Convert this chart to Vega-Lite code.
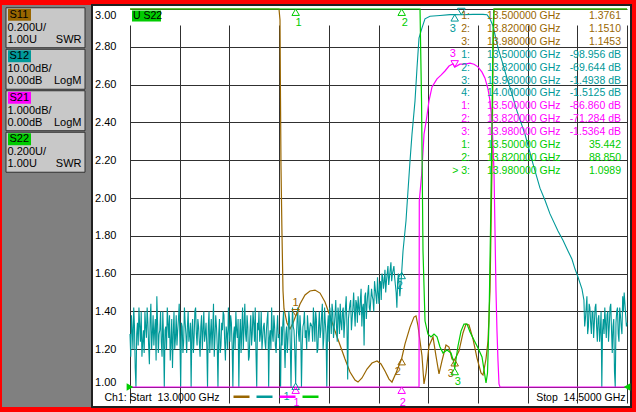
{
  "$schema": "https://vega.github.io/schema/vega-lite/v6.json",
  "background": "#ff0000",
  "padding": {"left": 2, "top": 4, "right": 5, "bottom": 6},
  "spacing": 0,
  "bounds": "flush",
  "config": {
    "font": "Liberation Sans",
    "text": {"font": "Liberation Sans"},
    "axis": {"labelFont": "Liberation Sans"},
    "legend": {"labelFont": "Liberation Sans"}
  },
  "resolve": {"scale": {"color": "independent"}, "legend": {"color": "independent"}},
  "datasets": {
    "panel": [
      {"trace": "S11", "per": "0.200U/", "ref": "1.00U", "fmt": "SWR"},
      {"trace": "S12", "per": "10.00dB/", "ref": "0.00dB", "fmt": "LogM"},
      {"trace": "S21", "per": "1.000dB/", "ref": "0.00dB", "fmt": "LogM"},
      {"trace": "S22", "per": "0.200U/", "ref": "1.00U", "fmt": "SWR"}
    ],
    "s11": [
      {"f": 13.0, "v": 30}, {"f": 13.1, "v": 28}, {"f": 13.2, "v": 24}, {"f": 13.3, "v": 18}, {"f": 13.4, "v": 10}, {"f": 13.445, "v": 5},
      {"f": 13.4497, "v": 3.5}, {"f": 13.4527, "v": 2.942}, {"f": 13.4542, "v": 2.529}, {"f": 13.4557, "v": 2.169}, {"f": 13.4587, "v": 1.81},
      {"f": 13.4618, "v": 1.508}, {"f": 13.4648, "v": 1.413}, {"f": 13.4738, "v": 1.339}, {"f": 13.4829, "v": 1.307}, {"f": 13.492, "v": 1.339},
      {"f": 13.5, "v": 1.3761}, {"f": 13.5131, "v": 1.439}, {"f": 13.5282, "v": 1.487}, {"f": 13.5433, "v": 1.508}, {"f": 13.5584, "v": 1.513},
      {"f": 13.5735, "v": 1.497}, {"f": 13.5885, "v": 1.45}, {"f": 13.6036, "v": 1.376}, {"f": 13.6187, "v": 1.296}, {"f": 13.6338, "v": 1.222},
      {"f": 13.6489, "v": 1.148}, {"f": 13.664, "v": 1.079}, {"f": 13.6791, "v": 1.037}, {"f": 13.6881, "v": 1.026}, {"f": 13.7002, "v": 1.048},
      {"f": 13.7153, "v": 1.095}, {"f": 13.7304, "v": 1.127}, {"f": 13.7455, "v": 1.138}, {"f": 13.7575, "v": 1.122}, {"f": 13.7696, "v": 1.085},
      {"f": 13.7817, "v": 1.042}, {"f": 13.7907, "v": 1.026}, {"f": 13.8028, "v": 1.074}, {"f": 13.82, "v": 1.151}, {"f": 13.83, "v": 1.228},
      {"f": 13.8451, "v": 1.317}, {"f": 13.8571, "v": 1.37}, {"f": 13.8632, "v": 1.376}, {"f": 13.8692, "v": 1.323}, {"f": 13.8753, "v": 1.243},
      {"f": 13.8813, "v": 1.164}, {"f": 13.8873, "v": 1.016}, {"f": 13.8934, "v": 1.074}, {"f": 13.9024, "v": 1.217}, {"f": 13.9145, "v": 1.265},
      {"f": 13.9235, "v": 1.164}, {"f": 13.9326, "v": 1.069}, {"f": 13.9416, "v": 1.138}, {"f": 13.9537, "v": 1.222}, {"f": 13.9627, "v": 1.211},
      {"f": 13.9718, "v": 1.148}, {"f": 13.98, "v": 1.1453}, {"f": 13.9929, "v": 1.19}, {"f": 14.005, "v": 1.286}, {"f": 14.0141, "v": 1.333},
      {"f": 14.0231, "v": 1.328}, {"f": 14.0352, "v": 1.254}, {"f": 14.0473, "v": 1.153}, {"f": 14.0594, "v": 1.074}, {"f": 14.0654, "v": 1.063},
      {"f": 14.0744, "v": 1.148}, {"f": 14.0805, "v": 1.243}, {"f": 14.0865, "v": 1.508}, {"f": 14.0895, "v": 1.825}, {"f": 14.0926, "v": 2.169},
      {"f": 14.0956, "v": 2.725}, {"f": 14.0986, "v": 3.6}, {"f": 14.15, "v": 8}, {"f": 14.25, "v": 14}, {"f": 14.35, "v": 20}, {"f": 14.5, "v": 26}
    ],
    "s12": [
      {"f": 13.0, "v": -86}, {"f": 13.0045, "v": -81}, {"f": 13.009, "v": -90}, {"f": 13.0135, "v": -84}, {"f": 13.018, "v": -101},
      {"f": 13.0225, "v": -83}, {"f": 13.027, "v": -79}, {"f": 13.0315, "v": -88}, {"f": 13.036, "v": -92}, {"f": 13.0405, "v": -85},
      {"f": 13.045, "v": -80}, {"f": 13.0495, "v": -87}, {"f": 13.054, "v": -83}, {"f": 13.0585, "v": -94}, {"f": 13.063, "v": -78},
      {"f": 13.0675, "v": -86}, {"f": 13.072, "v": -89}, {"f": 13.0765, "v": -82}, {"f": 13.081, "v": -76}, {"f": 13.0855, "v": -91},
      {"f": 13.09, "v": -85}, {"f": 13.0945, "v": -88}, {"f": 13.099, "v": -80}, {"f": 13.1035, "v": -103}, {"f": 13.108, "v": -84},
      {"f": 13.1125, "v": -79}, {"f": 13.117, "v": -87}, {"f": 13.1215, "v": -93}, {"f": 13.126, "v": -82}, {"f": 13.1305, "v": -86},
      {"f": 13.135, "v": -90}, {"f": 13.1395, "v": -81}, {"f": 13.144, "v": -85}, {"f": 13.1485, "v": -78}, {"f": 13.153, "v": -100},
      {"f": 13.1575, "v": -84}, {"f": 13.162, "v": -88}, {"f": 13.1665, "v": -83}, {"f": 13.171, "v": -91}, {"f": 13.1755, "v": -80},
      {"f": 13.18, "v": -86}, {"f": 13.1845, "v": -102}, {"f": 13.189, "v": -82}, {"f": 13.1935, "v": -87}, {"f": 13.198, "v": -79},
      {"f": 13.2025, "v": -89}, {"f": 13.207, "v": -84}, {"f": 13.2115, "v": -92}, {"f": 13.216, "v": -81}, {"f": 13.2205, "v": -85},
      {"f": 13.225, "v": -88}, {"f": 13.2295, "v": -83}, {"f": 13.234, "v": -101}, {"f": 13.2385, "v": -80}, {"f": 13.243, "v": -86},
      {"f": 13.2475, "v": -90}, {"f": 13.252, "v": -78}, {"f": 13.2565, "v": -87}, {"f": 13.261, "v": -84}, {"f": 13.2655, "v": -104},
      {"f": 13.27, "v": -82}, {"f": 13.2745, "v": -89}, {"f": 13.279, "v": -85}, {"f": 13.2835, "v": -81}, {"f": 13.288, "v": -93},
      {"f": 13.2925, "v": -86}, {"f": 13.297, "v": -79}, {"f": 13.3015, "v": -88}, {"f": 13.306, "v": -83}, {"f": 13.3105, "v": -100},
      {"f": 13.315, "v": -84}, {"f": 13.3195, "v": -80}, {"f": 13.324, "v": -87}, {"f": 13.3285, "v": -101}, {"f": 13.333, "v": -82},
      {"f": 13.3375, "v": -85}, {"f": 13.342, "v": -90}, {"f": 13.3465, "v": -78}, {"f": 13.351, "v": -88}, {"f": 13.3555, "v": -84},
      {"f": 13.36, "v": -92}, {"f": 13.3645, "v": -81}, {"f": 13.369, "v": -86}, {"f": 13.3735, "v": -83}, {"f": 13.378, "v": -79},
      {"f": 13.3825, "v": -102}, {"f": 13.387, "v": -85}, {"f": 13.3915, "v": -88}, {"f": 13.396, "v": -80}, {"f": 13.4005, "v": -87},
      {"f": 13.405, "v": -83}, {"f": 13.4095, "v": -90}, {"f": 13.414, "v": -82}, {"f": 13.4185, "v": -105}, {"f": 13.423, "v": -85},
      {"f": 13.4275, "v": -79}, {"f": 13.432, "v": -88}, {"f": 13.4365, "v": -84}, {"f": 13.441, "v": -91}, {"f": 13.4455, "v": -81},
      {"f": 13.45, "v": -86}, {"f": 13.4545, "v": -101}, {"f": 13.459, "v": -89}, {"f": 13.4635, "v": -80}, {"f": 13.468, "v": -95},
      {"f": 13.4725, "v": -84}, {"f": 13.477, "v": -87}, {"f": 13.4815, "v": -82}, {"f": 13.486, "v": -100}, {"f": 13.4905, "v": -79},
      {"f": 13.495, "v": -85}, {"f": 13.5, "v": -98.956}, {"f": 13.504, "v": -83}, {"f": 13.5085, "v": -86}, {"f": 13.513, "v": -81},
      {"f": 13.5175, "v": -102}, {"f": 13.522, "v": -84}, {"f": 13.5265, "v": -80}, {"f": 13.531, "v": -85}, {"f": 13.5355, "v": -81},
      {"f": 13.54, "v": -88}, {"f": 13.5445, "v": -83},
      {"f": 13.549, "v": -84}, {"f": 13.5535, "v": -79}, {"f": 13.558, "v": -88}, {"f": 13.5625, "v": -82}, {"f": 13.567, "v": -90},
      {"f": 13.5715, "v": -80}, {"f": 13.576, "v": -85}, {"f": 13.5805, "v": -78}, {"f": 13.585, "v": -87}, {"f": 13.5895, "v": -83},
      {"f": 13.594, "v": -101}, {"f": 13.5985, "v": -81}, {"f": 13.603, "v": -79}, {"f": 13.6075, "v": -86}, {"f": 13.612, "v": -80},
      {"f": 13.6165, "v": -84}, {"f": 13.621, "v": -77}, {"f": 13.6255, "v": -88}, {"f": 13.63, "v": -81}, {"f": 13.6345, "v": -78},
      {"f": 13.639, "v": -85}, {"f": 13.6435, "v": -79}, {"f": 13.648, "v": -83}, {"f": 13.6525, "v": -76}, {"f": 13.657, "v": -98},
      {"f": 13.6615, "v": -80}, {"f": 13.666, "v": -77}, {"f": 13.6705, "v": -82}, {"f": 13.675, "v": -75}, {"f": 13.6795, "v": -84},
      {"f": 13.684, "v": -78}, {"f": 13.6885, "v": -76}, {"f": 13.693, "v": -81}, {"f": 13.6975, "v": -74}, {"f": 13.702, "v": -79},
      {"f": 13.7065, "v": -89}, {"f": 13.711, "v": -75}, {"f": 13.7155, "v": -78}, {"f": 13.72, "v": -73}, {"f": 13.7245, "v": -80},
      {"f": 13.729, "v": -74}, {"f": 13.7335, "v": -77}, {"f": 13.738, "v": -72}, {"f": 13.7425, "v": -76}, {"f": 13.747, "v": -71},
      {"f": 13.7515, "v": -78}, {"f": 13.756, "v": -72}, {"f": 13.7605, "v": -70}, {"f": 13.765, "v": -74}, {"f": 13.7695, "v": -69},
      {"f": 13.774, "v": -72}, {"f": 13.7785, "v": -68}, {"f": 13.783, "v": -71}, {"f": 13.7875, "v": -67}, {"f": 13.792, "v": -70},
      {"f": 13.7965, "v": -68}, {"f": 13.801, "v": -73}, {"f": 13.8055, "v": -79}, {"f": 13.81, "v": -70}, {"f": 13.8145, "v": -76},
      {"f": 13.82, "v": -69.644}, {"f": 13.824, "v": -64}, {"f": 13.833, "v": -56}, {"f": 13.836, "v": -52}, {"f": 13.8451, "v": -40.2},
      {"f": 13.8511, "v": -33.1}, {"f": 13.8602, "v": -24.3}, {"f": 13.8662, "v": -15.6}, {"f": 13.8722, "v": -7.7}, {"f": 13.8813, "v": -5.0},
      {"f": 13.8903, "v": -2.6}, {"f": 13.9054, "v": -1.9}, {"f": 13.9356, "v": -1.7}, {"f": 13.9658, "v": -1.5}, {"f": 13.98, "v": -1.4938},
      {"f": 14.0, "v": -1.5125}, {"f": 14.0352, "v": -1.42}, {"f": 14.0654, "v": -1.42}, {"f": 14.0775, "v": -1.5}, {"f": 14.0865, "v": -2.6},
      {"f": 14.0956, "v": -4.5}, {"f": 14.1107, "v": -10.3}, {"f": 14.1227, "v": -13.8}, {"f": 14.1378, "v": -18.3}, {"f": 14.1529, "v": -22.5},
      {"f": 14.168, "v": -27.0}, {"f": 14.1921, "v": -33.1}, {"f": 14.2163, "v": -41}, {"f": 14.2374, "v": -47.4}, {"f": 14.2525, "v": -50.6},
      {"f": 14.2676, "v": -54.2}, {"f": 14.2917, "v": -58.7}, {"f": 14.3068, "v": -61.2}, {"f": 14.3219, "v": -64.0}, {"f": 14.334, "v": -66.2},
      {"f": 14.3431, "v": -68.8}, {"f": 14.3521, "v": -70.9}, {"f": 14.3642, "v": -74.1},
      {"f": 14.37, "v": -77}, {"f": 14.3745, "v": -82}, {"f": 14.379, "v": -76}, {"f": 14.3835, "v": -84}, {"f": 14.388, "v": -79},
      {"f": 14.3925, "v": -86}, {"f": 14.397, "v": -80}, {"f": 14.4015, "v": -83}, {"f": 14.406, "v": -78}, {"f": 14.4105, "v": -88},
      {"f": 14.415, "v": -81}, {"f": 14.4195, "v": -85}, {"f": 14.424, "v": -101}, {"f": 14.4285, "v": -82}, {"f": 14.433, "v": -79},
      {"f": 14.4375, "v": -87}, {"f": 14.442, "v": -80}, {"f": 14.4465, "v": -84}, {"f": 14.451, "v": -78}, {"f": 14.4555, "v": -91},
      {"f": 14.46, "v": -82}, {"f": 14.4645, "v": -104}, {"f": 14.469, "v": -80}, {"f": 14.4735, "v": -86}, {"f": 14.478, "v": -79},
      {"f": 14.4825, "v": -84}, {"f": 14.487, "v": -76}, {"f": 14.4915, "v": -75}, {"f": 14.496, "v": -81}, {"f": 14.5, "v": -83},
      {"f": 13.00225, "v": -92}, {"f": 13.00675, "v": -85}, {"f": 13.01125, "v": -79}, {"f": 13.01575, "v": -95}, {"f": 13.02025, "v": -86},
      {"f": 13.02475, "v": -89}, {"f": 13.02925, "v": -84}, {"f": 13.03375, "v": -80}, {"f": 13.03825, "v": -88}, {"f": 13.04275, "v": -91},
      {"f": 13.04725, "v": -84}, {"f": 13.05175, "v": -79}, {"f": 13.05625, "v": -89}, {"f": 13.06075, "v": -82}, {"f": 13.06525, "v": -90},
      {"f": 13.06975, "v": -81}, {"f": 13.07425, "v": -85}, {"f": 13.07875, "v": -93}, {"f": 13.08325, "v": -83}, {"f": 13.08775, "v": -86},
      {"f": 13.09225, "v": -80}, {"f": 13.09675, "v": -92}, {"f": 13.10125, "v": -87}, {"f": 13.10575, "v": -85}, {"f": 13.11025, "v": -90},
      {"f": 13.11475, "v": -83}, {"f": 13.11925, "v": -81}, {"f": 13.12375, "v": -88}, {"f": 13.12825, "v": -95}, {"f": 13.13275, "v": -80},
      {"f": 13.13725, "v": -87}, {"f": 13.14175, "v": -89}, {"f": 13.14625, "v": -82}, {"f": 13.15075, "v": -88}, {"f": 13.15525, "v": -83},
      {"f": 13.15975, "v": -91}, {"f": 13.16425, "v": -79}, {"f": 13.16875, "v": -86}, {"f": 13.17325, "v": -84}, {"f": 13.17775, "v": -88},
      {"f": 13.18225, "v": -83}, {"f": 13.18675, "v": -85}, {"f": 13.19125, "v": -91}, {"f": 13.19575, "v": -80}, {"f": 13.20025, "v": -86},
      {"f": 13.20475, "v": -82}, {"f": 13.20925, "v": -88}, {"f": 13.21375, "v": -84}, {"f": 13.21825, "v": -90}, {"f": 13.22275, "v": -80},
      {"f": 13.22725, "v": -86}, {"f": 13.23175, "v": -89}, {"f": 13.23625, "v": -84}, {"f": 13.24075, "v": -91}, {"f": 13.24525, "v": -82},
      {"f": 13.24975, "v": -85}, {"f": 13.25425, "v": -92}, {"f": 13.25875, "v": -81}, {"f": 13.26325, "v": -89}, {"f": 13.26775, "v": -86},
      {"f": 13.27225, "v": -91}, {"f": 13.27675, "v": -83}, {"f": 13.28125, "v": -80}, {"f": 13.28575, "v": -88}, {"f": 13.29025, "v": -84},
      {"f": 13.29475, "v": -90}, {"f": 13.29925, "v": -85}, {"f": 13.30375, "v": -81}, {"f": 13.30825, "v": -89}, {"f": 13.31275, "v": -86},
      {"f": 13.31725, "v": -90}, {"f": 13.32175, "v": -85}, {"f": 13.32625, "v": -82}, {"f": 13.33075, "v": -87}, {"f": 13.33525, "v": -91},
      {"f": 13.33975, "v": -79}, {"f": 13.34425, "v": -84}, {"f": 13.34875, "v": -86}, {"f": 13.35325, "v": -81}, {"f": 13.35775, "v": -93},
      {"f": 13.36225, "v": -85}, {"f": 13.36675, "v": -89}, {"f": 13.37125, "v": -80}, {"f": 13.37575, "v": -88}, {"f": 13.38025, "v": -91},
      {"f": 13.38475, "v": -83}, {"f": 13.38925, "v": -80}, {"f": 13.39375, "v": -86}, {"f": 13.39825, "v": -90}, {"f": 13.40275, "v": -84},
      {"f": 13.40725, "v": -88}, {"f": 13.41175, "v": -85}, {"f": 13.41625, "v": -80}, {"f": 13.42075, "v": -87}, {"f": 13.42525, "v": -90},
      {"f": 13.42975, "v": -86}, {"f": 13.43425, "v": -81}, {"f": 13.43875, "v": -89}, {"f": 13.44325, "v": -85}, {"f": 13.44775, "v": -87},
      {"f": 13.45225, "v": -90}, {"f": 13.45675, "v": -84}, {"f": 13.46125, "v": -83}, {"f": 13.46575, "v": -88}, {"f": 13.47025, "v": -86},
      {"f": 13.47475, "v": -91}, {"f": 13.47925, "v": -80}, {"f": 13.48375, "v": -89}, {"f": 13.48825, "v": -86}, {"f": 13.49275, "v": -84},
      {"f": 13.49725, "v": -90}, {"f": 13.502, "v": -87}, {"f": 13.50625, "v": -79}, {"f": 13.51075, "v": -88}, {"f": 13.51525, "v": -85},
      {"f": 13.51975, "v": -89}, {"f": 13.52425, "v": -83}, {"f": 13.52875, "v": -87}, {"f": 13.53325, "v": -90}, {"f": 13.53775, "v": -84},
      {"f": 13.54225, "v": -85},
      {"f": 13.55125, "v": -88}, {"f": 13.55575, "v": -83}, {"f": 13.56025, "v": -80}, {"f": 13.56475, "v": -91}, {"f": 13.56925, "v": -84},
      {"f": 13.57375, "v": -87}, {"f": 13.57825, "v": -81}, {"f": 13.58275, "v": -90}, {"f": 13.58725, "v": -79}, {"f": 13.59175, "v": -86},
      {"f": 13.59625, "v": -84}, {"f": 13.60075, "v": -88}, {"f": 13.60525, "v": -82}, {"f": 13.60975, "v": -78}, {"f": 13.61425, "v": -87},
      {"f": 13.61875, "v": -81}, {"f": 13.62325, "v": -84}, {"f": 13.62775, "v": -79}, {"f": 13.63225, "v": -86}, {"f": 13.63675, "v": -83},
      {"f": 13.64125, "v": -80}, {"f": 13.64575, "v": -87}, {"f": 13.65025, "v": -79}, {"f": 13.65475, "v": -84}, {"f": 13.65925, "v": -82},
      {"f": 13.66375, "v": -78}, {"f": 13.66825, "v": -85}, {"f": 13.67275, "v": -79}, {"f": 13.67725, "v": -80}, {"f": 13.68175, "v": -77},
      {"f": 13.68625, "v": -83}, {"f": 13.69075, "v": -79}, {"f": 13.69525, "v": -77}, {"f": 13.69975, "v": -84}, {"f": 13.70425, "v": -78},
      {"f": 13.70875, "v": -76}, {"f": 13.71325, "v": -82}, {"f": 13.71775, "v": -75}, {"f": 13.72225, "v": -79}, {"f": 13.72675, "v": -77},
      {"f": 13.73125, "v": -76}, {"f": 13.73575, "v": -80}, {"f": 13.74025, "v": -74}, {"f": 13.74475, "v": -78}, {"f": 13.74925, "v": -75},
      {"f": 13.75375, "v": -73}, {"f": 13.75825, "v": -77}, {"f": 13.76275, "v": -71}, {"f": 13.76725, "v": -72}, {"f": 13.77175, "v": -75},
      {"f": 13.77625, "v": -70}, {"f": 13.78075, "v": -73}, {"f": 13.78525, "v": -69}, {"f": 13.78975, "v": -72}, {"f": 13.79425, "v": -69},
      {"f": 13.79875, "v": -71}, {"f": 13.80325, "v": -75}, {"f": 13.80775, "v": -72}, {"f": 13.81225, "v": -73},
      {"f": 14.37225, "v": -84}, {"f": 14.37675, "v": -79}, {"f": 14.38125, "v": -86}, {"f": 14.38575, "v": -78}, {"f": 14.39025, "v": -83},
      {"f": 14.39475, "v": -80}, {"f": 14.39925, "v": -87}, {"f": 14.40375, "v": -79}, {"f": 14.40825, "v": -84}, {"f": 14.41275, "v": -82},
      {"f": 14.41725, "v": -88}, {"f": 14.42175, "v": -80}, {"f": 14.42625, "v": -85}, {"f": 14.43075, "v": -86}, {"f": 14.43525, "v": -83},
      {"f": 14.43975, "v": -81}, {"f": 14.44425, "v": -88}, {"f": 14.44875, "v": -79}, {"f": 14.45325, "v": -85}, {"f": 14.45775, "v": -84},
      {"f": 14.46225, "v": -96}, {"f": 14.46675, "v": -83}, {"f": 14.47125, "v": -79}, {"f": 14.47575, "v": -88}, {"f": 14.48025, "v": -81},
      {"f": 14.48475, "v": -86}, {"f": 14.48925, "v": -80}, {"f": 14.49375, "v": -78}, {"f": 14.49825, "v": -84}
    ],
    "s21": [
      {"f": 13.0, "v": -95}, {"f": 13.2, "v": -92}, {"f": 13.4, "v": -90}, {"f": 13.5, "v": -86.86}, {"f": 13.7, "v": -78},
      {"f": 13.82, "v": -71.284}, {"f": 13.86, "v": -40}, {"f": 13.868, "v": -15}, {"f": 13.8723, "v": -11}, {"f": 13.8731, "v": -5.08},
      {"f": 13.8803, "v": -4.37}, {"f": 13.8874, "v": -3.31}, {"f": 13.8949, "v": -2.91}, {"f": 13.9024, "v": -2.43}, {"f": 13.9115, "v": -2.06},
      {"f": 13.9266, "v": -1.85}, {"f": 13.9387, "v": -1.75}, {"f": 13.9507, "v": -1.64}, {"f": 13.9628, "v": -1.51}, {"f": 13.9749, "v": -1.45},
      {"f": 13.98, "v": -1.5364}, {"f": 13.996, "v": -1.46}, {"f": 14.0111, "v": -1.46}, {"f": 14.0262, "v": -1.43}, {"f": 14.0382, "v": -1.46},
      {"f": 14.0503, "v": -1.53}, {"f": 14.0624, "v": -1.67}, {"f": 14.0714, "v": -1.83}, {"f": 14.0805, "v": -2.12}, {"f": 14.0865, "v": -2.43},
      {"f": 14.0926, "v": -2.96}, {"f": 14.0986, "v": -4.29}, {"f": 14.1016, "v": -5.87}, {"f": 14.1046, "v": -7.46}, {"f": 14.1076, "v": -8.52},
      {"f": 14.1107, "v": -9.31}, {"f": 14.1137, "v": -9.92}, {"f": 14.1167, "v": -12}, {"f": 14.2, "v": -40}, {"f": 14.3, "v": -70},
      {"f": 14.4, "v": -85}, {"f": 14.5, "v": -92}
    ],
    "s22": [
      {"f": 13.0, "v": 40}, {"f": 13.2, "v": 45}, {"f": 13.5, "v": 35.442}, {"f": 13.7, "v": 60}, {"f": 13.82, "v": 88.85},
      {"f": 13.87, "v": 25}, {"f": 13.8753, "v": 6}, {"f": 13.8799, "v": 2.513}, {"f": 13.8843, "v": 1.72}, {"f": 13.8904, "v": 1.349},
      {"f": 13.8994, "v": 1.28}, {"f": 13.9085, "v": 1.265}, {"f": 13.9175, "v": 1.28}, {"f": 13.9266, "v": 1.265}, {"f": 13.9356, "v": 1.212},
      {"f": 13.9447, "v": 1.18}, {"f": 13.9567, "v": 1.196}, {"f": 13.9688, "v": 1.18}, {"f": 13.9779, "v": 1.127}, {"f": 13.98, "v": 1.0989},
      {"f": 13.9899, "v": 1.217}, {"f": 13.999, "v": 1.296}, {"f": 14.008, "v": 1.333}, {"f": 14.0171, "v": 1.333}, {"f": 14.0262, "v": 1.291},
      {"f": 14.0382, "v": 1.249}, {"f": 14.0503, "v": 1.206}, {"f": 14.0624, "v": 1.159}, {"f": 14.0699, "v": 1.074}, {"f": 14.0745, "v": 1.021},
      {"f": 14.079, "v": 1.074}, {"f": 14.0835, "v": 1.349}, {"f": 14.088, "v": 1.825}, {"f": 14.0926, "v": 2.407}, {"f": 14.0956, "v": 2.884},
      {"f": 14.0986, "v": 5}, {"f": 14.2, "v": 30}, {"f": 14.5, "v": 60}
    ],
    "markers": [
      {"trace": "S11", "m": 1, "f": 13.5, "v": 1.3761},
      {"trace": "S11", "m": 2, "f": 13.82, "v": 1.151},
      {"trace": "S11", "m": 3, "f": 13.98, "v": 1.1453},
      {"trace": "S12", "m": 1, "f": 13.5, "v": -98.956},
      {"trace": "S12", "m": 2, "f": 13.82, "v": -69.644},
      {"trace": "S12", "m": 3, "f": 13.98, "v": -1.4938},
      {"trace": "S12", "m": 4, "f": 14.0, "v": -1.5125},
      {"trace": "S21", "m": 1, "f": 13.5, "v": -86.86},
      {"trace": "S21", "m": 2, "f": 13.82, "v": -71.284},
      {"trace": "S21", "m": 3, "f": 13.98, "v": -1.5364},
      {"trace": "S22", "m": 1, "f": 13.5, "v": 35.442},
      {"trace": "S22", "m": 2, "f": 13.82, "v": 88.85},
      {"trace": "S22", "m": 3, "f": 13.98, "v": 1.0989}
    ],
    "readout": [
      {"trace": "S11", "row": 0, "m": "1:", "freq": "13.500000 GHz", "val": "1.3761"},
      {"trace": "S11", "row": 1, "m": "2:", "freq": "13.820000 GHz", "val": "1.1510"},
      {"trace": "S11", "row": 2, "m": "3:", "freq": "13.980000 GHz", "val": "1.1453"},
      {"trace": "S12", "row": 3, "m": "1:", "freq": "13.500000 GHz", "val": "-98.956 dB"},
      {"trace": "S12", "row": 4, "m": "2:", "freq": "13.820000 GHz", "val": "-69.644 dB"},
      {"trace": "S12", "row": 5, "m": "3:", "freq": "13.980000 GHz", "val": "-1.4938 dB"},
      {"trace": "S12", "row": 6, "m": "4:", "freq": "14.000000 GHz", "val": "-1.5125 dB"},
      {"trace": "S21", "row": 7, "m": "1:", "freq": "13.500000 GHz", "val": "-86.860 dB"},
      {"trace": "S21", "row": 8, "m": "2:", "freq": "13.820000 GHz", "val": "-71.284 dB"},
      {"trace": "S21", "row": 9, "m": "3:", "freq": "13.980000 GHz", "val": "-1.5364 dB"},
      {"trace": "S22", "row": 10, "m": "1:", "freq": "13.500000 GHz", "val": "35.442"},
      {"trace": "S22", "row": 11, "m": "2:", "freq": "13.820000 GHz", "val": "88.850"},
      {"trace": "S22", "row": 12, "m": "> 3:", "freq": "13.980000 GHz", "val": "1.0989"}
    ],
    "tag": [{"label": "U S22", "trace": "S22", "row": 0}],
    "refl": [{"f": 13.0, "v": 1.0}],
    "refr": [{"f": 14.5, "v": 1.0}]
  },
  "hconcat": [
    {
      "width": 90,
      "height": 402,
      "view": {"fill": "#808080", "stroke": null},
      "data": {"name": "panel"},
      "encoding": {
        "y": {"field": "trace", "type": "nominal", "axis": null, "sort": null,
              "scale": {"domain": ["S11", "S12", "S21", "S22"], "range": [2, 168], "paddingInner": 0.05, "paddingOuter": 0}}
      },
      "layer": [
        {"mark": {"type": "point", "shape": "M-1,-0.506H1V0.506H-1Z", "size": 6241, "filled": true, "fill": "#c8c8c8", "stroke": "#303030", "strokeWidth": 1, "opacity": 1, "xOffset": -1.5}},
        {"mark": {"type": "point", "shape": "M-1,-0.52H1V0.52H-1Z", "size": 529, "filled": true, "opacity": 1, "strokeWidth": 0, "xOffset": -27.5, "yOffset": -13},
         "encoding": {"color": {"field": "trace", "type": "nominal", "legend": null,
                                "scale": {"domain": ["S11", "S12", "S21", "S22"], "range": ["#996600", "#009999", "#ff00ff", "#00cc00"]}}}},
        {"mark": {"type": "text", "align": "left", "baseline": "middle", "dx": -37.5, "dy": -13, "fontSize": 11, "color": "#000000"},
         "encoding": {"text": {"field": "trace", "type": "nominal"}}},
        {"mark": {"type": "text", "align": "left", "baseline": "middle", "dx": -39.5, "dy": 0, "fontSize": 11, "color": "#000000"},
         "encoding": {"text": {"field": "per", "type": "nominal"}}},
        {"mark": {"type": "text", "align": "left", "baseline": "middle", "dx": -39.5, "dy": 12, "fontSize": 11, "color": "#000000"},
         "encoding": {"text": {"field": "ref", "type": "nominal"}}},
        {"mark": {"type": "text", "align": "right", "baseline": "middle", "dx": 34.5, "dy": 12, "fontSize": 11, "color": "#000000"},
         "encoding": {"text": {"field": "fmt", "type": "nominal"}}}
      ]
    },
    {
      "width": 539,
      "height": 402,
      "view": {"fill": "#ffffff", "stroke": "#202020", "strokeWidth": 2},
      "resolve": {"scale": {"y": "independent"}, "axis": {"y": "independent"}},
      "layer": [
        {
          "data": {"name": "s11"},
          "mark": {"type": "line", "strokeWidth": 1.2},
          "encoding": {
            "x": {"field": "f", "type": "quantitative",
                  "scale": {"domain": [13, 14.5], "range": [38, 535], "nice": false, "zero": false},
                  "axis": {"values": [13, 13.15, 13.3, 13.45, 13.6, 13.75, 13.9, 14.05, 14.2, 14.35, 14.5],
                           "orient": "bottom", "offset": -20, "grid": true, "gridColor": "#303030", "gridOpacity": 1, "gridWidth": 1,
                           "ticks": false, "domain": false, "title": null, "labelPadding": 5, "labelBaseline": "top",
                           "labelExpr": "datum.value == 13 ? 'Ch1: Start\u00a0 13.0000 GHz' : (datum.value == 14.5 ? 'Stop\u00a0 14.5000 GHz' : '')",
                           "labelFlush": true, "labelFlushOffset": 12, "labelOffset": -14, "labelOverlap": false,
                           "labelFontSize": 10.5, "labelColor": "#000000"}},
            "y": {"field": "v", "type": "quantitative", "axis": null,
                  "scale": {"domain": [1, 3], "range": [382, 4], "clamp": true, "nice": false, "zero": false}},
            "color": {"datum": "S11", "type": "nominal",
                      "scale": {"domain": ["S11", "S12", "S21", "S22"], "range": ["#996600", "#009999", "#ff00ff", "#00cc00"]},
                      "legend": {"orient": "none", "legendX": 140, "legendY": 382, "direction": "horizontal", "title": null,
                                 "symbolType": "stroke", "symbolSize": 256, "symbolStrokeWidth": 2.5, "labelExpr": "''",
                                 "labelOffset": 0, "labelFontSize": 1, "columnPadding": -8, "padding": 0, "symbolOffset": 0, "rowPadding": 0}}
          }
        },
        {
          "data": {"name": "s12"},
          "mark": {"type": "line", "strokeWidth": 1.1},
          "encoding": {
            "x": {"field": "f", "type": "quantitative", "scale": {"domain": [13, 14.5], "range": [38, 535], "nice": false, "zero": false}},
            "y": {"field": "v", "type": "quantitative", "axis": null,
                  "scale": {"domain": [-100, 0], "range": [382, 4], "clamp": true, "nice": false, "zero": false}},
            "color": {"datum": "S12", "type": "nominal",
                      "scale": {"domain": ["S11", "S12", "S21", "S22"], "range": ["#996600", "#009999", "#ff00ff", "#00cc00"]}}
          }
        },
        {
          "data": {"name": "s21"},
          "mark": {"type": "line", "strokeWidth": 1.2},
          "encoding": {
            "x": {"field": "f", "type": "quantitative", "scale": {"domain": [13, 14.5], "range": [38, 535], "nice": false, "zero": false}},
            "y": {"field": "v", "type": "quantitative", "axis": null,
                  "scale": {"domain": [-10, 0], "range": [382, 4], "clamp": true, "nice": false, "zero": false}},
            "color": {"datum": "S21", "type": "nominal",
                      "scale": {"domain": ["S11", "S12", "S21", "S22"], "range": ["#996600", "#009999", "#ff00ff", "#00cc00"]}}
          }
        },
        {
          "data": {"name": "s22"},
          "mark": {"type": "line", "strokeWidth": 1.2},
          "encoding": {
            "x": {"field": "f", "type": "quantitative", "scale": {"domain": [13, 14.5], "range": [38, 535], "nice": false, "zero": false}},
            "y": {"field": "v", "type": "quantitative",
                  "scale": {"domain": [1, 3], "range": [382, 4], "clamp": true, "nice": false, "zero": false},
                  "axis": {"orient": "left", "offset": -38, "values": [1, 1.2, 1.4, 1.6, 1.8, 2, 2.2, 2.4, 2.6, 2.8, 3],
                           "format": ".2f", "labelFlush": true, "labelFlushOffset": 0, "grid": true, "gridColor": "#303030",
                           "gridOpacity": 1, "gridWidth": 1, "ticks": false, "domain": false, "title": null, "labelPadding": 14,
                           "labelFontSize": 11, "labelColor": "#000000", "labelOverlap": false}},
            "color": {"datum": "S22", "type": "nominal",
                      "scale": {"domain": ["S11", "S12", "S21", "S22"], "range": ["#996600", "#009999", "#ff00ff", "#00cc00"]}}
          }
        },
        {
          "data": {"name": "markers"},
          "transform": [{"filter": "datum.trace == 'S11' && datum.m == 1"}],
          "encoding": {
            "x": {"field": "f", "type": "quantitative", "scale": {"domain": [13, 14.5], "range": [38, 535], "nice": false, "zero": false}},
            "y": {"field": "v", "type": "quantitative", "axis": null,
                  "scale": {"domain": [1, 3], "range": [382, 4], "clamp": true, "nice": false, "zero": false}}
          },
          "layer": [
            {"mark": {"type": "point", "shape": "triangle-down", "size": 56, "filled": false, "color": "#996600", "strokeWidth": 1, "opacity": 1, "yOffset": -3.2}},
            {"mark": {"type": "text", "baseline": "bottom", "dy": -8, "fontSize": 11, "color": "#996600"}, "encoding": {"text": {"field": "m", "type": "nominal"}}}
          ]
        },
        {
          "data": {"name": "markers"},
          "transform": [{"filter": "datum.trace == 'S11' && datum.m != 1"}],
          "encoding": {
            "x": {"field": "f", "type": "quantitative", "scale": {"domain": [13, 14.5], "range": [38, 535], "nice": false, "zero": false}},
            "y": {"field": "v", "type": "quantitative", "axis": null,
                  "scale": {"domain": [1, 3], "range": [382, 4], "clamp": true, "nice": false, "zero": false}}
          },
          "layer": [
            {"mark": {"type": "point", "shape": "triangle-up", "size": 56, "filled": false, "color": "#996600", "strokeWidth": 1, "opacity": 1, "yOffset": 3.2}},
            {"mark": {"type": "text", "baseline": "top", "dy": 8, "dx": -4, "fontSize": 11, "color": "#996600"}, "encoding": {"text": {"field": "m", "type": "nominal"}}}
          ]
        },
        {
          "data": {"name": "markers"},
          "transform": [{"filter": "datum.trace == 'S12' && datum.m != 4"}],
          "encoding": {
            "x": {"field": "f", "type": "quantitative", "scale": {"domain": [13, 14.5], "range": [38, 535], "nice": false, "zero": false}},
            "y": {"field": "v", "type": "quantitative", "axis": null,
                  "scale": {"domain": [-100, 0], "range": [382, 4], "clamp": true, "nice": false, "zero": false}}
          },
          "layer": [
            {"mark": {"type": "point", "shape": "triangle-up", "size": 56, "filled": false, "color": "#009999", "strokeWidth": 1, "opacity": 1, "yOffset": 3.2}},
            {"transform": [{"filter": "datum.m != 1"}],
             "mark": {"type": "text", "baseline": "top", "dy": 8, "dx": -2, "fontSize": 11, "color": "#009999"}, "encoding": {"text": {"field": "m", "type": "nominal"}}},
            {"transform": [{"filter": "datum.m == 1"}],
             "mark": {"type": "text", "baseline": "top", "dy": 8, "dx": -9, "fontSize": 11, "color": "#009999"}, "encoding": {"text": {"field": "m", "type": "nominal"}}}
          ]
        },
        {
          "data": {"name": "markers"},
          "transform": [{"filter": "datum.trace == 'S12' && datum.m == 4"}],
          "mark": {"type": "point", "shape": "triangle-down", "size": 56, "filled": false, "color": "#009999", "strokeWidth": 1, "opacity": 1, "yOffset": -3.2},
          "encoding": {
            "x": {"field": "f", "type": "quantitative", "scale": {"domain": [13, 14.5], "range": [38, 535], "nice": false, "zero": false}},
            "y": {"field": "v", "type": "quantitative", "axis": null,
                  "scale": {"domain": [-100, 0], "range": [382, 4], "clamp": true, "nice": false, "zero": false}}
          }
        },
        {
          "data": {"name": "markers"},
          "transform": [{"filter": "datum.trace == 'S21' && datum.m != 3"}],
          "encoding": {
            "x": {"field": "f", "type": "quantitative", "scale": {"domain": [13, 14.5], "range": [38, 535], "nice": false, "zero": false}},
            "y": {"field": "v", "type": "quantitative", "axis": null,
                  "scale": {"domain": [-10, 0], "range": [382, 4], "clamp": true, "nice": false, "zero": false}}
          },
          "layer": [
            {"mark": {"type": "point", "shape": "triangle-up", "size": 56, "filled": false, "color": "#ff00ff", "strokeWidth": 1, "opacity": 1, "yOffset": 3.2}},
            {"mark": {"type": "text", "baseline": "top", "dy": 10, "dx": 1, "fontSize": 11, "color": "#ff00ff"}, "encoding": {"text": {"field": "m", "type": "nominal"}}}
          ]
        },
        {
          "data": {"name": "markers"},
          "transform": [{"filter": "datum.trace == 'S21' && datum.m == 3"}],
          "encoding": {
            "x": {"field": "f", "type": "quantitative", "scale": {"domain": [13, 14.5], "range": [38, 535], "nice": false, "zero": false}},
            "y": {"field": "v", "type": "quantitative", "axis": null,
                  "scale": {"domain": [-10, 0], "range": [382, 4], "clamp": true, "nice": false, "zero": false}}
          },
          "layer": [
            {"mark": {"type": "point", "shape": "triangle-down", "size": 56, "filled": false, "color": "#ff00ff", "strokeWidth": 1, "opacity": 1, "yOffset": -3.2}},
            {"mark": {"type": "text", "baseline": "bottom", "dy": -8, "dx": -2, "fontSize": 11, "color": "#ff00ff"}, "encoding": {"text": {"field": "m", "type": "nominal"}}}
          ]
        },
        {
          "data": {"name": "markers"},
          "transform": [{"filter": "datum.trace == 'S22'"}],
          "encoding": {
            "x": {"field": "f", "type": "quantitative", "scale": {"domain": [13, 14.5], "range": [38, 535], "nice": false, "zero": false}},
            "y": {"field": "v", "type": "quantitative", "axis": null,
                  "scale": {"domain": [1, 3], "range": [382, 4], "clamp": true, "nice": false, "zero": false}}
          },
          "layer": [
            {"mark": {"type": "point", "shape": "triangle-up", "size": 56, "filled": false, "color": "#00cc00", "strokeWidth": 1, "opacity": 1, "yOffset": 3.2}},
            {"mark": {"type": "text", "baseline": "top", "dy": 8, "dx": 3, "fontSize": 11, "color": "#00cc00"}, "encoding": {"text": {"field": "m", "type": "nominal"}}}
          ]
        },
        {
          "data": {"name": "refl"},
          "mark": {"type": "point", "shape": "triangle-right", "size": 60, "filled": true, "color": "#00cc00", "opacity": 1},
          "encoding": {
            "x": {"field": "f", "type": "quantitative", "scale": {"domain": [13, 14.5], "range": [38, 535], "nice": false, "zero": false}},
            "y": {"field": "v", "type": "quantitative", "axis": null,
                  "scale": {"domain": [1, 3], "range": [382, 4], "clamp": true, "nice": false, "zero": false}}
          }
        },
        {
          "data": {"name": "refr"},
          "mark": {"type": "point", "shape": "triangle-left", "size": 60, "filled": true, "color": "#00cc00", "opacity": 1},
          "encoding": {
            "x": {"field": "f", "type": "quantitative", "scale": {"domain": [13, 14.5], "range": [38, 535], "nice": false, "zero": false}},
            "y": {"field": "v", "type": "quantitative", "axis": null,
                  "scale": {"domain": [1, 3], "range": [382, 4], "clamp": true, "nice": false, "zero": false}}
          }
        },
        {
          "data": {"name": "readout"},
          "encoding": {
            "y": {"field": "row", "type": "quantitative", "axis": null,
                  "scale": {"domain": [0, 30], "range": [11, 398], "nice": false, "zero": false}},
            "color": {"field": "trace", "type": "nominal", "legend": null,
                      "scale": {"domain": ["S11", "S12", "S21", "S22"], "range": ["#996600", "#009999", "#ff00ff", "#00cc00"]}}
          },
          "layer": [
            {"mark": {"type": "text", "align": "right", "baseline": "middle", "fontSize": 10.5},
             "encoding": {"x": {"datum": 14.0262, "type": "quantitative", "scale": {"domain": [13, 14.5], "range": [38, 535], "nice": false, "zero": false}},
                          "text": {"field": "m", "type": "nominal"}}},
            {"mark": {"type": "text", "align": "left", "baseline": "middle", "fontSize": 10.5},
             "encoding": {"x": {"datum": 14.0775, "type": "quantitative", "scale": {"domain": [13, 14.5], "range": [38, 535], "nice": false, "zero": false}},
                          "text": {"field": "freq", "type": "nominal"}}},
            {"mark": {"type": "text", "align": "right", "baseline": "middle", "fontSize": 10.5},
             "encoding": {"x": {"datum": 14.4819, "type": "quantitative", "scale": {"domain": [13, 14.5], "range": [38, 535], "nice": false, "zero": false}},
                          "text": {"field": "val", "type": "nominal"}}}
          ]
        },
        {
          "data": {"name": "tag"},
          "encoding": {
            "y": {"field": "row", "type": "quantitative", "axis": null,
                  "scale": {"domain": [0, 30], "range": [11, 398], "nice": false, "zero": false}}
          },
          "layer": [
            {"mark": {"type": "point", "shape": "M-1,-0.38H1V0.38H-1Z", "size": 841, "filled": true, "opacity": 1, "strokeWidth": 0},
             "encoding": {"x": {"datum": 13.0498, "type": "quantitative", "scale": {"domain": [13, 14.5], "range": [38, 535], "nice": false, "zero": false}},
                          "color": {"field": "trace", "type": "nominal", "legend": null,
                                    "scale": {"domain": ["S11", "S12", "S21", "S22"], "range": ["#996600", "#009999", "#ff00ff", "#00cc00"]}}}},
            {"mark": {"type": "text", "align": "left", "baseline": "middle", "fontSize": 10.5, "color": "#000000"},
             "encoding": {"x": {"datum": 13.0091, "type": "quantitative", "scale": {"domain": [13, 14.5], "range": [38, 535], "nice": false, "zero": false}},
                          "text": {"field": "label", "type": "nominal"}}}
          ]
        }
      ]
    }
  ]
}
